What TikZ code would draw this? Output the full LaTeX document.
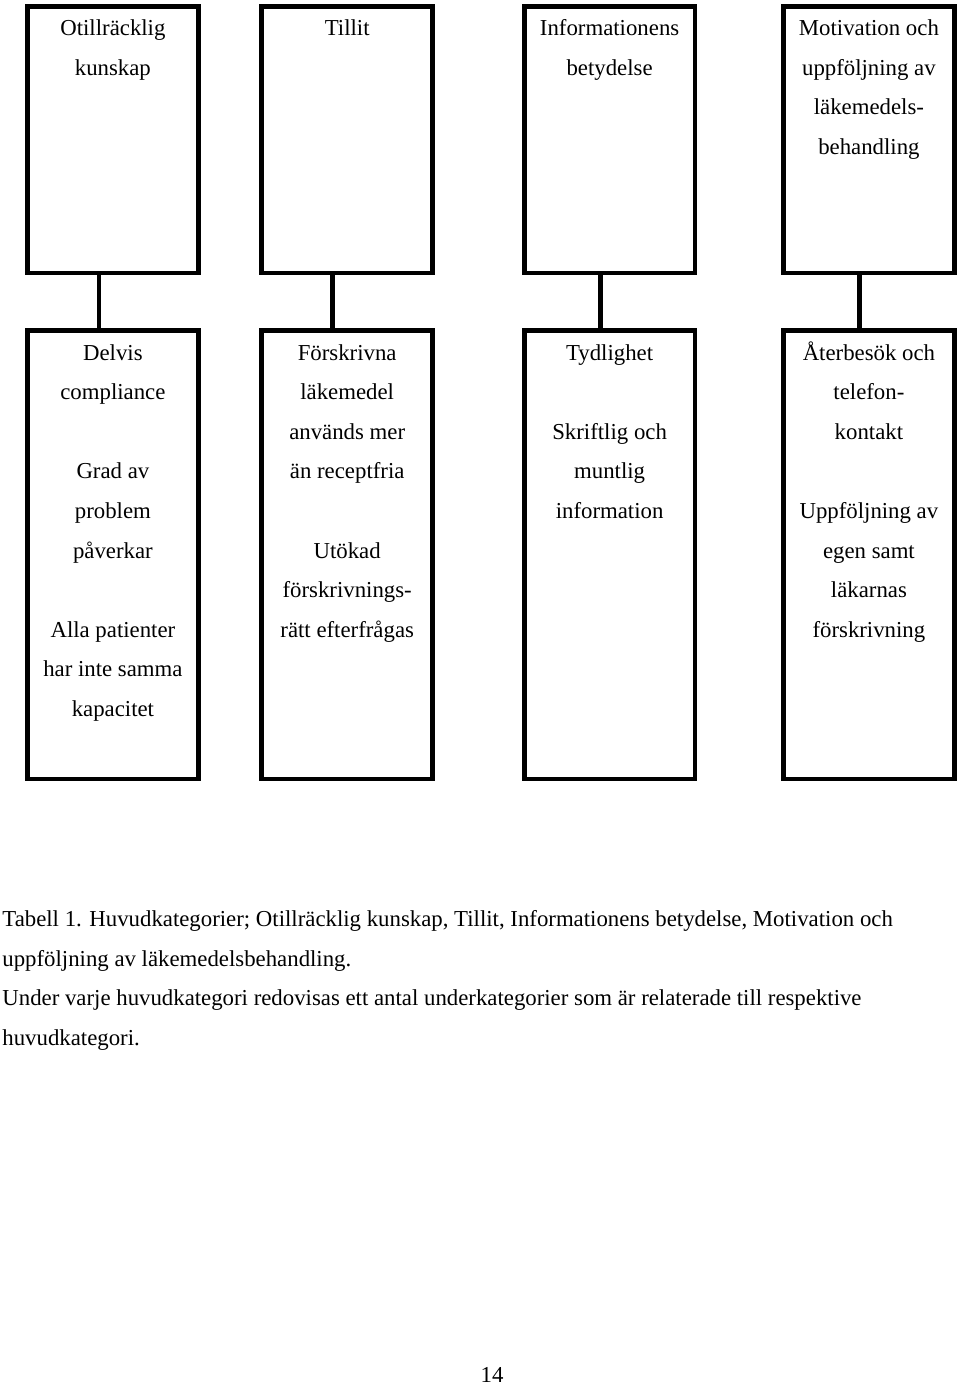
\documentclass[tikz,border=0pt]{standalone}
\usepackage{fontspec}
\setmainfont{Liberation Serif}
\usetikzlibrary{positioning}

\begin{document}
\begin{tikzpicture}[
    x=0.5pt, y=-0.5pt, line join=miter,
    box/.style={draw, line width=2.4pt, outer sep=0pt, inner sep=0pt,
      anchor=north west, minimum width=85.4pt},
    huvud/.style={box, minimum height=133.25pt},
    under/.style={box, minimum height=224.1pt},
    txt/.style={inner sep=0pt, align=center, font=\fontsize{11.4}{19.8}\selectfont},
    link/.style={line width=2.4pt}]
  \useasboundingbox (0,0) rectangle (960,1385);
  % Huvudkategorier
  \node[huvud] (k1) at (27.5,6.5) {};
  \node[huvud] (k2) at (261.8,6.5) {};
  \node[huvud] (k3) at (524.2,6.5) {};
  \node[huvud] (k4) at (783.5,6.5) {};
  \node[txt, below=0.4pt of k1.north] (k1t) {\strut Otillräcklig\\kunskap};
  \node[txt, below=0.4pt of k2.north] (k2t) {\strut Tillit};
  \node[txt, below=0.4pt of k3.north] (k3t) {\strut Informationens\\betydelse};
  \node[txt, below=0.4pt of k4.north] (k4t)
    {\strut Motivation och\\uppföljning av\\läkemedels-\\behandling};
  % Underkategorier
  \node[under] (u1) at (27.5,330.8) {};
  \node[under] (u2) at (261.8,330.8) {};
  \node[under] (u3) at (524.2,330.8) {};
  \node[under] (u4) at (783.5,330.8) {};
  \node[txt, below=0.6pt of u1.north] (u1t)
    {\strut Delvis\\compliance\\[19.8pt]Grad av\\problem\\påverkar\\[19.8pt]
     Alla patienter\\har inte samma\\kapacitet};
  \node[txt, below=0.6pt of u2.north] (u2t)
    {\strut Förskrivna\\läkemedel\\används mer\\än receptfria\\[19.8pt]
     Utökad\\förskrivnings-\\rätt efterfrågas};
  \node[txt, below=0.6pt of u3.north] (u3t)
    {\strut Tydlighet\\[19.8pt]Skriftlig och\\muntlig\\information};
  \node[txt, below=0.6pt of u4.north] (u4t)
    {\strut Återbesök och\\telefon-\\kontakt\\[19.8pt]
     Uppföljning av\\egen samt\\läkarnas\\förskrivning};
  % Förbindelser
  \draw[link] ([xshift=-7pt]k1.south) -- ([xshift=-7pt]u1.north);
  \draw[link] ([xshift=-7.5pt]k2.south) -- ([xshift=-7.5pt]u2.north);
  \draw[link] ([xshift=-4.7pt]k3.south) -- ([xshift=-4.7pt]u3.north);
  \draw[link] ([xshift=-4.9pt]k4.south) -- ([xshift=-4.9pt]u4.north);
  % Tabelltext
  \node[txt, align=left, anchor=north west] (cap) at (2,898.3)
    {\strut Tabell 1. Huvudkategorier; Otillräcklig kunskap, Tillit, Informationens betydelse, Motivation och\\
     uppföljning av läkemedelsbehandling.\\
     Under varje huvudkategori redovisas ett antal underkategorier som är relaterade till respektive\\
     huvudkategori.};
  \node[txt, anchor=base] (sida) at (492,1382) {14};
\end{tikzpicture}
\end{document}
